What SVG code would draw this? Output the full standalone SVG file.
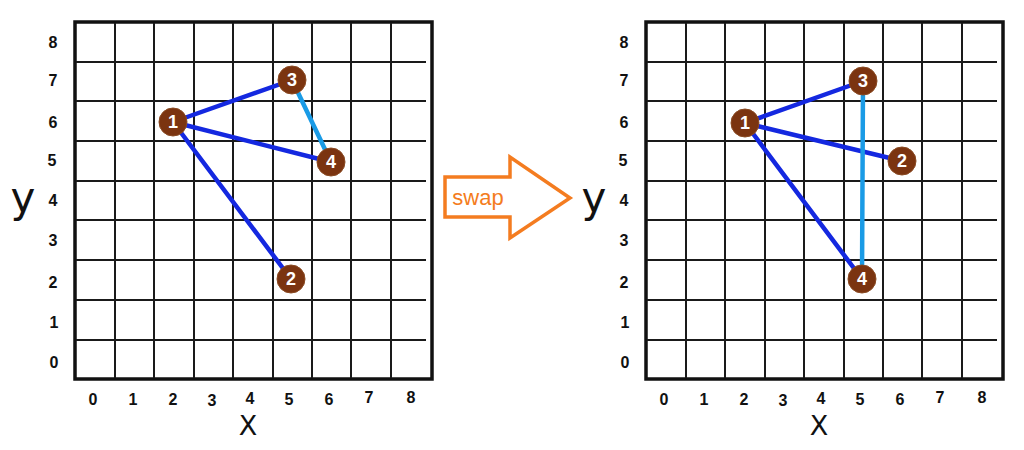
<svg xmlns="http://www.w3.org/2000/svg" width="1024" height="450" viewBox="0 0 1024 450">
<style>
.box{fill:none;stroke:#111;stroke-width:3.5}
.gl{stroke:#1a1a1a;stroke-width:2}
.lab{font-family:"Liberation Sans",Arial,sans-serif;font-weight:bold;font-size:16px;fill:#111;text-anchor:middle}
.ax{font-family:"DejaVu Sans",sans-serif;fill:#111;text-anchor:middle}
.e{stroke:#1428e0;stroke-width:4.5;stroke-linecap:round}
.e2{stroke:#1a9be6;stroke-width:4.5;stroke-linecap:round}
.n circle{fill:#7b3410;stroke:#8a4a22;stroke-width:1}
.n text{font-family:"Liberation Sans",Arial,sans-serif;font-weight:bold;font-size:18px;fill:#fff;text-anchor:middle}
.sw{fill:#fff;stroke:#f47c20;stroke-width:3.5;stroke-linejoin:miter}
</style>
<defs>
<g id="grid">
<rect class="box" x="75" y="22" width="357" height="357"/>
<g class="gl">
<line x1="115" y1="23" x2="115" y2="378"/>
<line x1="154" y1="23" x2="154" y2="378"/>
<line x1="194" y1="23" x2="194" y2="378"/>
<line x1="233" y1="23" x2="233" y2="378"/>
<line x1="273" y1="23" x2="273" y2="378"/>
<line x1="312" y1="23" x2="312" y2="378"/>
<line x1="351" y1="23" x2="351" y2="378"/>
<line x1="391" y1="23" x2="391" y2="378"/>
<line x1="76" y1="62" x2="426" y2="62"/>
<line x1="76" y1="101" x2="426" y2="101"/>
<line x1="76" y1="141" x2="426" y2="141"/>
<line x1="76" y1="181" x2="426" y2="181"/>
<line x1="76" y1="220" x2="426" y2="220"/>
<line x1="76" y1="260" x2="426" y2="260"/>
<line x1="76" y1="300" x2="426" y2="300"/>
<line x1="76" y1="340" x2="426" y2="340"/>
</g>
<g class="lab">
<text x="53" y="48">8</text>
<text x="53" y="86">7</text>
<text x="53" y="128">6</text>
<text x="52" y="166">5</text>
<text x="53" y="206">4</text>
<text x="53" y="246">3</text>
<text x="53" y="288">2</text>
<text x="54" y="328">1</text>
<text x="54" y="368">0</text>
<text x="93" y="405">0</text>
<text x="133" y="405">1</text>
<text x="173" y="405">2</text>
<text x="212" y="406">3</text>
<text x="250" y="404">4</text>
<text x="289" y="405">5</text>
<text x="329" y="405">6</text>
<text x="369" y="403">7</text>
<text x="411" y="403">8</text>
</g>
<text class="ax" x="23" y="212" font-size="42">y</text>
<text class="ax" x="248" y="435" font-size="27">X</text>
</g>
</defs>
<g id="left-grid"><use href="#grid"/></g>
<g id="right-grid"><use href="#grid" x="571"/></g>
<g id="connectors">
<line class="e" x1="173" y1="122" x2="292" y2="80"/>
<line class="e" x1="173" y1="122" x2="331" y2="162"/>
<line class="e" x1="173" y1="122" x2="291" y2="279"/>
<line class="e2" x1="292" y1="80" x2="331" y2="162"/>
<line class="e" x1="745" y1="123" x2="863" y2="81"/>
<line class="e" x1="745" y1="123" x2="902" y2="161"/>
<line class="e" x1="745" y1="123" x2="862" y2="279"/>
<line class="e2" x1="863" y1="81" x2="862" y2="279"/>
</g>
<g id="L1" class="n"><circle cx="173" cy="122" r="14"/><text x="173" y="128">1</text></g>
<g id="L2" class="n"><circle cx="291" cy="279" r="14"/><text x="291" y="285">2</text></g>
<g id="L3" class="n"><circle cx="292" cy="80" r="14"/><text x="292" y="86">3</text></g>
<g id="L4" class="n"><circle cx="331" cy="162" r="14"/><text x="331" y="168">4</text></g>
<g id="R1" class="n"><circle cx="745" cy="123" r="14"/><text x="745" y="129">1</text></g>
<g id="R2" class="n"><circle cx="902" cy="161" r="14"/><text x="902" y="167">2</text></g>
<g id="R3" class="n"><circle cx="863" cy="81" r="14"/><text x="863" y="87">3</text></g>
<g id="R4" class="n"><circle cx="862" cy="279" r="14"/><text x="862" y="285">4</text></g>
<g id="swap">
<polygon class="sw" points="445,177 510,177 510,157 570,198 510,238 510,217 445,217"/>
<text x="478" y="205" font-family="Liberation Sans,Arial,sans-serif" font-size="22" fill="#f47c20" text-anchor="middle">swap</text>
</g>
</svg>
